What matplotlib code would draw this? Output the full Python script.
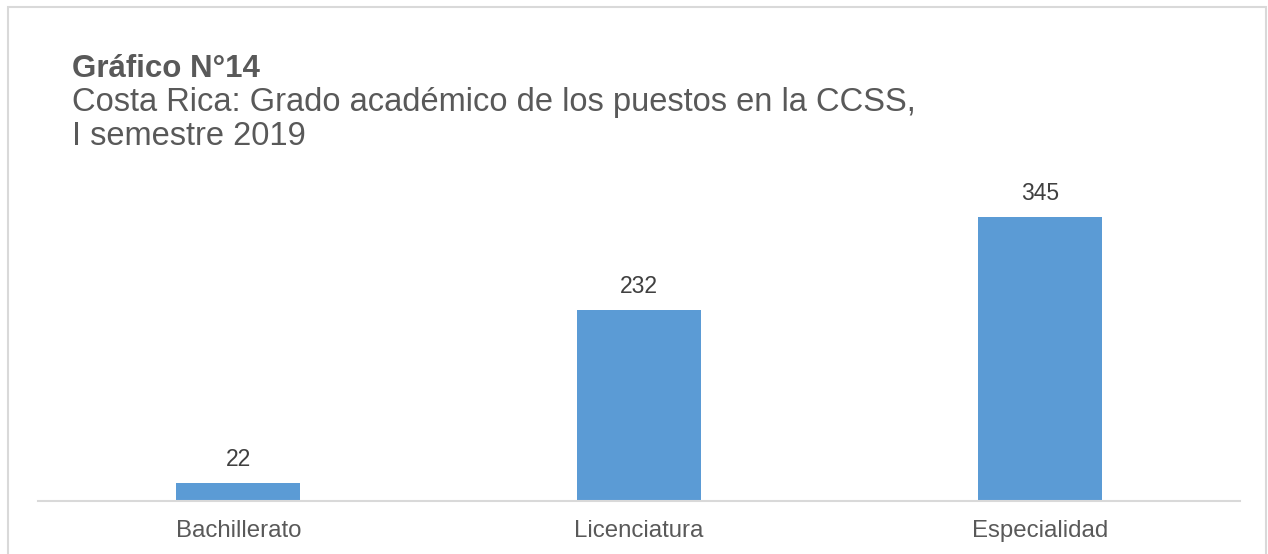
import matplotlib
matplotlib.use("Agg")
import matplotlib.pyplot as plt
from matplotlib.patches import Rectangle

categories = ["Bachillerato", "Licenciatura", "Especialidad"]
values = [22, 232, 345]

W, H = 1268, 554
fig = plt.figure(figsize=(W / 100, H / 100), dpi=100)
plt.rcParams['font.family'] = ['Liberation Sans', 'DejaVu Sans']

# outer border
fig.patches.append(Rectangle((8 / W, -0.05), (1266 - 8) / W, (H - 7) / H + 0.05,
                             transform=fig.transFigure, fill=False,
                             edgecolor='#D9D9D9', linewidth=1.5))

ax_left, ax_right = 38, 1240
ax_bottom, ax_top = 501, 190
ax = fig.add_axes([ax_left / W, (H - ax_bottom) / H, (ax_right - ax_left) / W, (ax_bottom - ax_top) / H])
x = list(range(len(categories)))
bars = ax.bar(x, values, width=0.31, color='#5B9BD5')
ax.set_xlim(-0.5, len(categories) - 0.5)
ax.set_ylim(0, 378)
for xi, v in zip(x, values):
    ax.annotate(str(v), (xi, v), xytext=(0, 12), textcoords='offset points',
                ha='center', va='baseline', fontsize=16.5, color='#404040')
ax.set_xticks(x)
ax.set_xticklabels(categories, fontsize=17.3, color='#595959')
ax.tick_params(axis='x', length=0, pad=13.5)
ax.set_yticks([])
for s in ['top', 'right', 'left']:
    ax.spines[s].set_visible(False)
ax.spines['bottom'].set_color('#D9D9D9')
ax.spines['bottom'].set_linewidth(1.5)

fig.text(72 / W, 1 - 77 / H, "Gráfico N°14", fontsize=22.5, fontweight='bold',
         color='#595959', va='baseline', ha='left')
fig.text(72 / W, 1 - 111 / H, "Costa Rica: Grado académico de los puestos en la CCSS,",
         fontsize=23.5, color='#595959', va='baseline', ha='left')
fig.text(72 / W, 1 - 145 / H, "I semestre 2019", fontsize=23.5, color='#595959',
         va='baseline', ha='left')

fig.savefig("out.png", dpi=100)
